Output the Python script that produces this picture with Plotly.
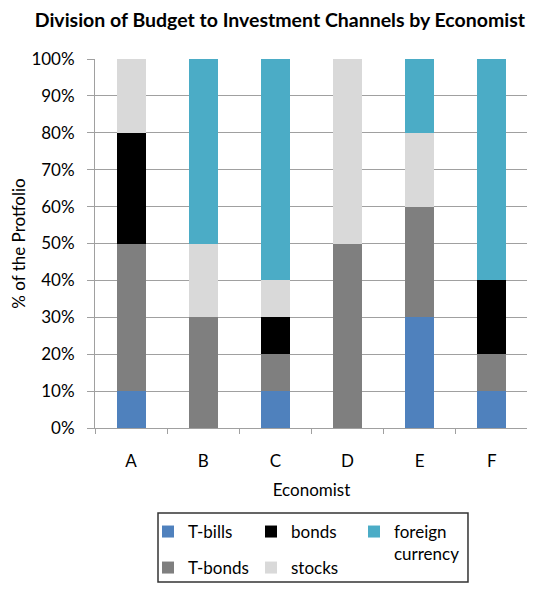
import plotly.graph_objects as go

economists = ["A", "B", "C", "D", "E", "F"]
t_bills = [10, 0, 10, 0, 30, 10]
t_bonds = [40, 30, 10, 50, 30, 10]
bonds = [30, 0, 10, 0, 0, 20]
stocks = [20, 20, 10, 50, 20, 0]
foreign = [0, 50, 60, 0, 20, 60]

series = [
    ("T-bills", t_bills, "#4F81BD", "legend"),
    ("T-bonds", t_bonds, "#7F7F7F", "legend2"),
    ("bonds", bonds, "#000000", "legend"),
    ("stocks", stocks, "#D9D9D9", "legend2"),
    ("foreign<br>currency", foreign, "#4BACC6", "legend"),
]

FONT = "Lato"
fig = go.Figure()
for name, vals, color, lg in series:
    fig.add_trace(go.Bar(x=economists, y=vals, name=name, marker_color=color,
                         marker_line_width=0, legend=lg, width=0.4))
fig.data[-1].legendwidth = 80

leg_common = dict(orientation="h", xanchor="left", yanchor="top", x=0.1224,
                  traceorder="normal",
                  borderwidth=0, bgcolor="rgba(0,0,0,0)", valign="top",
                  entrywidth=58, entrywidthmode="pixels",
                  font=dict(size=17, family=FONT))

fig.update_layout(
    width=527, height=581,
    barmode="stack",
    plot_bgcolor="white", paper_bgcolor="white",
    margin=dict(l=87, r=7, t=51, b=161, autoexpand=False),
    font=dict(family=FONT, size=17, color="#000000"),
    title=dict(text="<b>Division of Budget to Investment Channels by Economist</b>",
               x=0.516, xanchor="center", y=0.979, yref="container", yanchor="middle",
               font=dict(size=19.5, family=FONT)),
    legend=dict(leg_common, y=-0.233),
    legend2=dict(leg_common, y=-0.3306),
    xaxis=dict(title=dict(text="Economist", font=dict(size=17), standoff=13),
               showgrid=False, showline=True, linecolor="#A0A0A0",
               ticks="outside", tickson="boundaries", ticklen=5, tickcolor="#A0A0A0",
               ticklabelstandoff=18, automargin=False),
    yaxis=dict(title=dict(text="% of the Protfolio", font=dict(size=17), standoff=22),
               range=[0, 100], dtick=10, ticksuffix="%",
               showgrid=True, gridcolor="#A0A0A0", showline=True, linecolor="#A0A0A0",
               ticks="outside", ticklen=7, tickcolor="#A0A0A0", zeroline=False,
               ticklabelstandoff=9, automargin=False),
    shapes=[dict(type="rect", xref="paper", yref="paper",
                 x0=0.1455, x1=0.8614, y0=-0.4173, y1=-0.2304,
                 line=dict(color="#333333", width=1.5), fillcolor="rgba(0,0,0,0)")],
)
fig.write_html("out.html")
